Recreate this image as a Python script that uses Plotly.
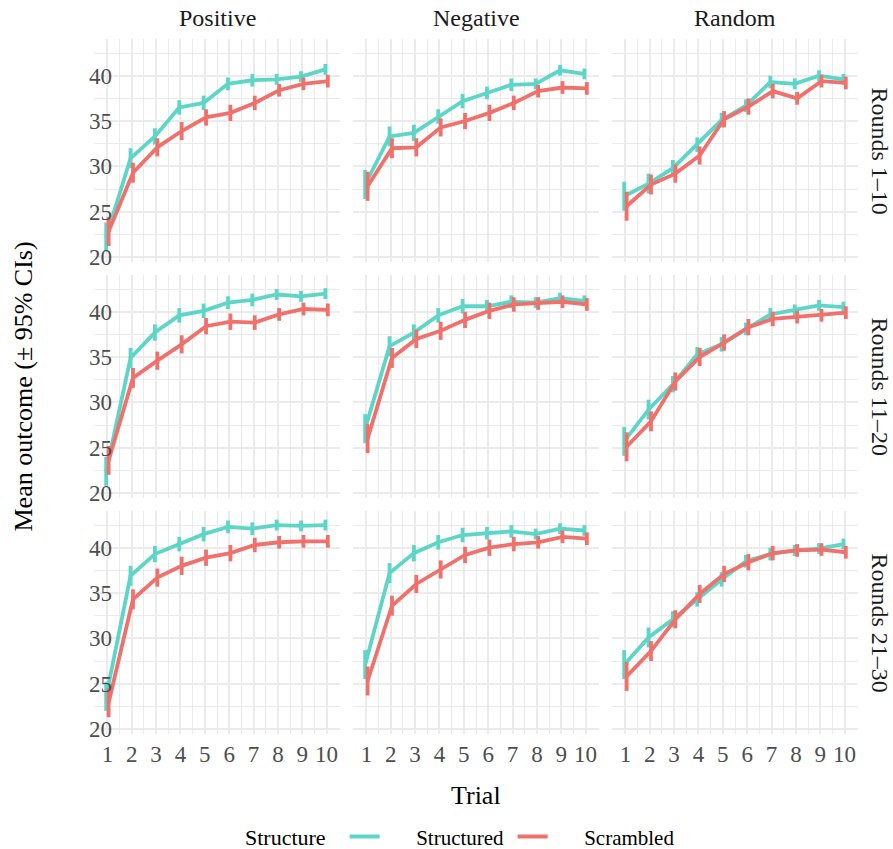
import plotly.graph_objects as go

trials = [1, 2, 3, 4, 5, 6, 7, 8, 9, 10]
conditions = ["Positive", "Negative", "Random"]
round_blocks = ["Rounds 1–10", "Rounds 11–20", "Rounds 21–30"]
series_names = ["Structured", "Scrambled"]
series_colors = {"Structured": "#5DD6C8", "Scrambled": "#F0716C"}

# Mean outcome per panel (row = round block, col = condition)
structured_r1_pos = [22.2, 30.9, 33.3, 36.5, 37.0, 39.1, 39.5, 39.6, 39.9, 40.7]
scrambled_r1_pos = [22.8, 29.3, 32.1, 33.9, 35.4, 35.9, 37.0, 38.4, 39.1, 39.4]
structured_r1_neg = [28.0, 33.3, 33.7, 35.5, 37.2, 38.1, 39.0, 39.1, 40.6, 40.2]
scrambled_r1_neg = [27.8, 32.0, 32.1, 34.3, 35.0, 35.9, 37.0, 38.3, 38.7, 38.6]
structured_r1_ran = [26.7, 28.1, 29.8, 32.4, 35.1, 36.7, 39.3, 39.1, 40.0, 39.6]
scrambled_r1_ran = [25.6, 28.0, 29.2, 31.2, 35.2, 36.6, 38.3, 37.5, 39.4, 39.2]

structured_r2_pos = [22.4, 34.9, 37.7, 39.6, 40.1, 41.0, 41.3, 41.9, 41.7, 42.0]
scrambled_r2_pos = [23.6, 32.7, 34.6, 36.4, 38.4, 38.9, 38.8, 39.7, 40.3, 40.2]
structured_r2_neg = [27.1, 36.2, 37.7, 39.6, 40.6, 40.6, 41.1, 41.0, 41.5, 41.2]
scrambled_r2_neg = [26.0, 34.9, 37.0, 37.9, 39.1, 40.1, 40.8, 40.9, 41.1, 40.8]
structured_r2_ran = [25.7, 29.2, 32.0, 35.3, 36.4, 38.1, 39.7, 40.2, 40.7, 40.5]
scrambled_r2_ran = [25.1, 27.9, 32.3, 35.0, 36.6, 38.3, 39.2, 39.4, 39.6, 39.9]

structured_r3_pos = [23.6, 36.9, 39.3, 40.4, 41.5, 42.3, 42.1, 42.5, 42.4, 42.5]
scrambled_r3_pos = [22.9, 34.3, 36.7, 38.0, 38.9, 39.4, 40.3, 40.6, 40.7, 40.7]
structured_r3_neg = [27.1, 37.2, 39.4, 40.6, 41.4, 41.6, 41.8, 41.5, 42.1, 41.9]
scrambled_r3_neg = [25.3, 33.6, 36.0, 37.6, 39.2, 40.0, 40.4, 40.6, 41.2, 41.0]
structured_r3_ran = [27.1, 30.1, 32.1, 34.3, 36.5, 38.5, 39.3, 39.7, 39.9, 40.4]
scrambled_r3_ran = [25.8, 28.6, 32.1, 34.9, 37.1, 38.4, 39.4, 39.7, 39.8, 39.5]

# 95% CI half-widths
ci_structured = [1.6, 1.1, 0.9, 0.8, 0.8, 0.7, 0.7, 0.6, 0.6, 0.6]
ci_scrambled = [1.6, 1.1, 1.0, 1.0, 0.9, 0.9, 0.8, 0.7, 0.7, 0.7]

means = {
    (0, 0): (structured_r1_pos, scrambled_r1_pos),
    (0, 1): (structured_r1_neg, scrambled_r1_neg),
    (0, 2): (structured_r1_ran, scrambled_r1_ran),
    (1, 0): (structured_r2_pos, scrambled_r2_pos),
    (1, 1): (structured_r2_neg, scrambled_r2_neg),
    (1, 2): (structured_r2_ran, scrambled_r2_ran),
    (2, 0): (structured_r3_pos, scrambled_r3_pos),
    (2, 1): (structured_r3_neg, scrambled_r3_neg),
    (2, 2): (structured_r3_ran, scrambled_r3_ran),
}

FONT = "Liberation Serif, DejaVu Serif, serif"
W, H = 893, 849
ML, MR, MT, MB = 94, 35, 39, 115
PW, PH = W - ML - MR, H - MT - MB
col_w, col_gap = 246, 13
row_h, row_gap = 223, 13

fig = go.Figure()
dodge = {"Structured": -0.05, "Scrambled": 0.05}
legend_pad = "\u00a0" * 6

for (r, c), (s_vals, b_vals) in means.items():
    idx = r * 3 + c + 1
    xa = "x" if idx == 1 else f"x{idx}"
    ya = "y" if idx == 1 else f"y{idx}"
    for name, vals, ci in [("Structured", s_vals, ci_structured),
                           ("Scrambled", b_vals, ci_scrambled)]:
        fig.add_trace(go.Scatter(
            x=[t + dodge[name] for t in trials], y=vals,
            mode="lines", name=legend_pad + name,
            line=dict(color=series_colors[name], width=3.8),
            error_y=dict(type="data", array=ci, visible=True, width=0,
                         thickness=3.8, color=series_colors[name]),
            xaxis=xa, yaxis=ya,
            showlegend=(idx == 1), legendgroup=name,
        ))

    x0 = (c * (col_w + col_gap)) / PW
    x1 = (c * (col_w + col_gap) + col_w) / PW
    ytop = 1 - (r * (row_h + row_gap)) / PH
    ybot = 1 - (r * (row_h + row_gap) + row_h) / PH
    axis_common = dict(showline=False, zeroline=False, gridcolor="#EBEBEB",
                       gridwidth=1.5, ticks="",
                       tickfont=dict(family=FONT, size=23, color="#4D4D4D"))
    xname = "xaxis" if idx == 1 else f"xaxis{idx}"
    yname = "yaxis" if idx == 1 else f"yaxis{idx}"
    fig.layout[xname] = dict(
        domain=[x0, x1], range=[0.45, 10.55], anchor=ya,
        tickmode="array", tickvals=trials, ticktext=[str(t) for t in trials],
        showticklabels=(r == 2), ticklabelstandoff=4,
        minor=dict(tickmode="array", tickvals=[t + 0.5 for t in trials[:-1]],
                   showgrid=True, gridcolor="#EBEBEB", gridwidth=0.8),
        **axis_common)
    fig.layout[yname] = dict(
        domain=[ybot, ytop], range=[19.45, 44.05], anchor=xa,
        tickmode="array", tickvals=[20, 25, 30, 35, 40],
        showticklabels=(c == 0), ticklabelstandoff=-19,
        minor=dict(tickmode="array", tickvals=[22.5, 27.5, 32.5, 37.5, 42.5],
                   showgrid=True, gridcolor="#EBEBEB", gridwidth=0.8),
        **axis_common)

annotations = []
for c, name in enumerate(conditions):
    xc = (c * (col_w + col_gap) + col_w / 2) / PW
    annotations.append(dict(text=name, x=xc, y=1, xref="paper", yref="paper",
                            xanchor="center", yanchor="middle", yshift=21,
                            showarrow=False,
                            font=dict(family=FONT, size=24, color="#1A1A1A")))
for r, name in enumerate(round_blocks):
    yc = 1 - (r * (row_h + row_gap) + row_h / 2) / PH
    annotations.append(dict(text=name, x=1, y=yc, xref="paper", yref="paper",
                            xanchor="center", yanchor="middle", xshift=22,
                            textangle=90, showarrow=False,
                            font=dict(family=FONT, size=24, color="#1A1A1A")))
annotations.append(dict(text="Trial", x=0.5, y=0, xref="paper", yref="paper",
                        xanchor="center", yanchor="middle", yshift=-61,
                        showarrow=False,
                        font=dict(family=FONT, size=26, color="#000000")))
annotations.append(dict(text="Mean outcome (± 95% CIs)", x=0, y=0.5,
                        xref="paper", yref="paper", xanchor="center",
                        yanchor="middle", xshift=-71,
                        textangle=-90, showarrow=False,
                        font=dict(family=FONT, size=26, color="#000000")))

fig.update_layout(
    width=W, height=H,
    margin=dict(l=ML, r=MR, t=MT, b=MB, autoexpand=False),
    paper_bgcolor="white", plot_bgcolor="white",
    annotations=annotations,
    legend=dict(orientation="h", x=0.195, xanchor="left", y=-0.148,
                yanchor="middle",
                title=dict(text="Structure\u00a0\u00a0", font=dict(family=FONT, size=22, color="#000000")),
                font=dict(family=FONT, size=21, color="#000000"),
                entrywidth=123, itemwidth=30, tracegroupgap=0),
)

fig.write_html("out.html")
